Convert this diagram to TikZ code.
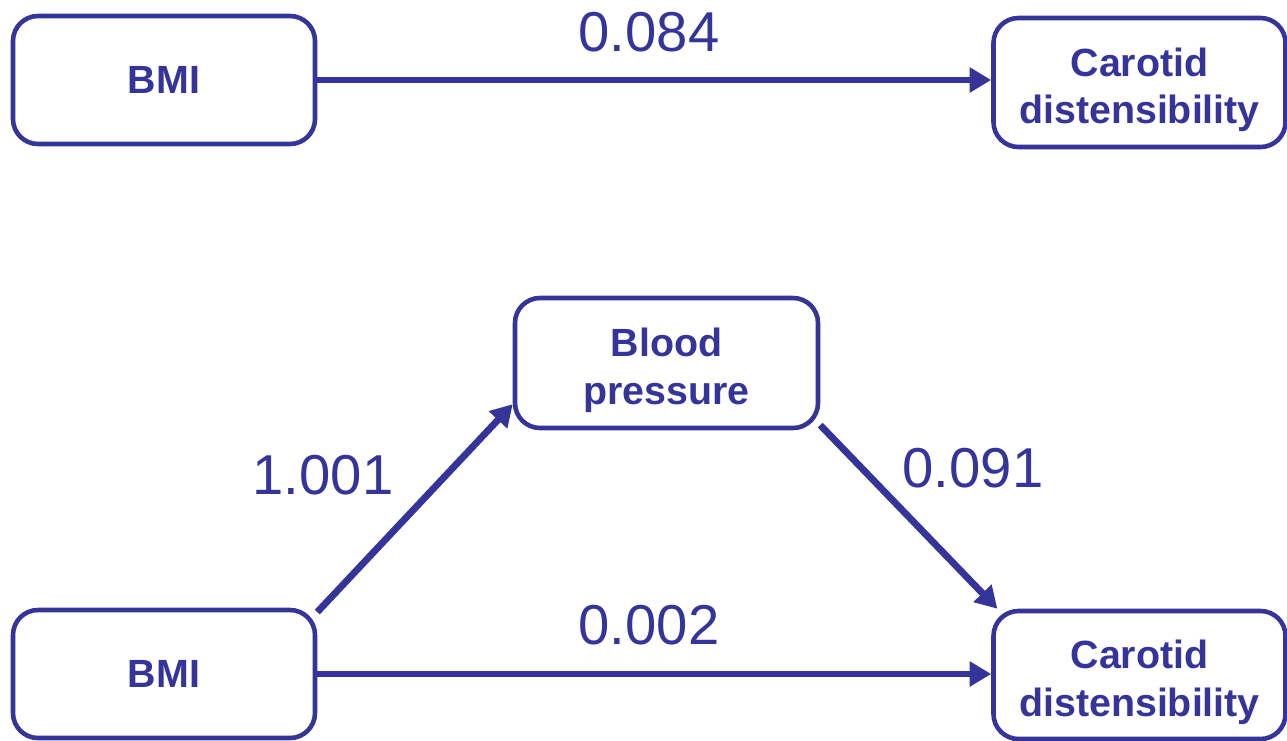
\documentclass[tikz,border=0pt]{standalone}
\usepackage{fontspec}
\setmainfont{Liberation Sans}
\usetikzlibrary{arrows.meta}
\definecolor{medblue}{RGB}{52,52,154}
\newcommand{\topstrut}{\rule{0pt}{1.1em}}

\begin{document}
\begin{tikzpicture}[
  varbox/.style={draw=medblue,text=medblue,line width=2.6pt,rounded corners=0.5cm,align=center,inner sep=0pt,font=\fontsize{22.4}{27}\selectfont\bfseries},  coef/.style={text=medblue,inner sep=0pt,font=\fontsize{32}{36}\selectfont},  link/.style={draw=medblue,line width=3.9pt,-{Triangle[length=0.43cm,width=0.48cm]}}
]
  \useasboundingbox (0,0) rectangle (25.74,-14.8);
  % top: total effect
  \node[varbox,minimum width=6.04cm,minimum height=2.56cm] (bmia) at (3.28,-1.6) {BMI};
  \node[varbox,minimum width=5.84cm,minimum height=2.58cm] (cara) at (22.79,-1.65) {\topstrut Carotid\\distensibility};
  \draw[link] (bmia.east) -- (bmia.east -| cara.west);
  \node[coef] (ta) at (12.98,-0.64) {0.084};
  % bottom: mediation
  \node[varbox,minimum width=6.06cm,minimum height=2.6cm] (bp) at (13.33,-7.26) {\topstrut Blood\\pressure};
  \node[varbox,minimum width=6.04cm,minimum height=2.56cm] (bmib) at (3.28,-13.48) {BMI};
  \node[varbox,minimum width=5.84cm,minimum height=2.56cm] (carb) at (22.79,-13.5) {\topstrut Carotid\\distensibility};
  \draw[link] (bmib.22) -- (bp.195);
  \draw[link] (bp.-22) -- (carb.155);
  \draw[link] (bmib.east) -- (bmib.east -| carb.west);
  \node[coef] (tb) at (6.46,-9.5) {1.001};
  \node[coef] (tc) at (19.46,-9.36) {0.091};
  \node[coef] (td) at (12.98,-12.5) {0.002};
\end{tikzpicture}
\end{document}
